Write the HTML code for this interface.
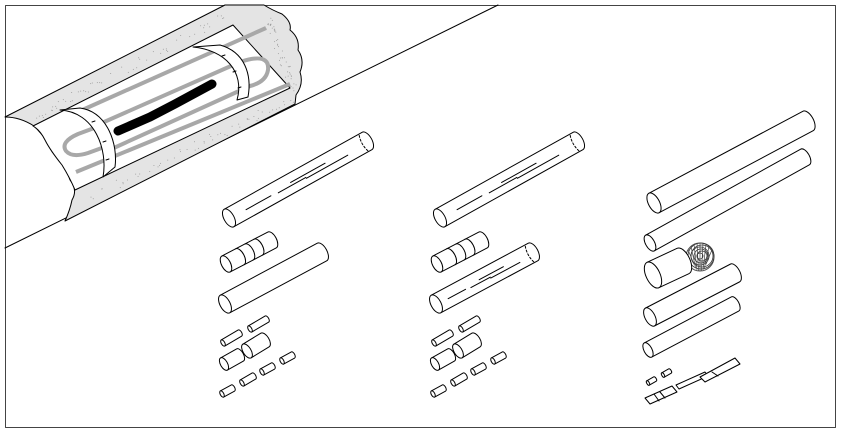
<!DOCTYPE html>
<html><head><meta charset="utf-8"><style>
html,body{margin:0;padding:0;background:#fff;width:841px;height:434px;overflow:hidden}
svg{display:block}
</style></head><body>
<svg id="s" width="841" height="434" viewBox="0 0 841 434" xmlns="http://www.w3.org/2000/svg" fill="none" stroke="#000" stroke-width="1" stroke-linejoin="round" stroke-linecap="round">
<rect x="5.5" y="5.5" width="830" height="422" stroke="#444"/>
<line x1="5" y1="248" x2="498" y2="5"/>
<path d="M5,117 L225,5 L264,5 Q272,10 282,14 Q292,22 290,30 Q300,38 298,50 Q305,60 300,72 Q304,84 296,95 L295,104 L65,221 Q70,210 72,200 Q78,190 70,180 Q66,168 60,160 Q50,152 48,142 Q40,132 34,126 Q20,117 5,117 Z" fill="#e4e4e4"/>
<path d="M33,126 L233,25 L290,88 L75,190 Q70,178 62,165 Q50,150 45,140 Q40,130 33,126 Z" fill="#fff"/>
<g id="dots" fill="#999" stroke="none"></g>
<g stroke="#a8a8a8" stroke-width="4" fill="none" stroke-linecap="butt">
<path d="M80,111 L266,28"/>
<path d="M95,126 L240,62 Q270,52 268,70 Q266,82 250,86 L105,152"/>
<path d="M105,124 L78,134 Q60,142 66,151 Q72,158 88,153 L110,145"/>
<path d="M76,172 L290,84"/>
</g>
<path d="M118,131 L150,117 L175,104 L212,84" stroke="#000" stroke-width="9"/>
<path d="M60,110 C95,112 108,150 103,177 L115,167 C118,145 108,112 80,108 Z" fill="#fff"/>
<path d="M193,47 C225,50 245,72 237,100 L248,97 C252,75 245,52 220,45 Z" fill="#fff"/>
<path d="M92,122 l3,-1 M103,142 l3,-1 M106,160 l3,-1 M222,56 l3,-1 M233,72 l3,-1 M238,88 l3,-1"/>
<g id="parts"></g>
</svg>
<script>
var s=document.getElementById('parts'),NS='http://www.w3.org/2000/svg';
function el(t,a){var e=document.createElementNS(NS,t);for(var k in a)e.setAttribute(k,a[k]);s.appendChild(e);return e;}
function cyl(x1,y1,x2,y2,r,dash){
 var dx=x2-x1,dy=y2-y1,L=Math.hypot(dx,dy),ux=dx/L,uy=dy/L,nx=-uy,ny=ux,ang=Math.atan2(dy,dx)*180/Math.PI,rx=r*0.5;
 var d='M'+(x1+nx*r)+','+(y1+ny*r)+' L'+(x2+nx*r)+','+(y2+ny*r)+' A'+rx+','+r+' '+ang+' 0 0 '+(x2-nx*r)+','+(y2-ny*r)+' L'+(x1-nx*r)+','+(y1-ny*r)+' Z';
 el('path',{d:d,fill:'#fff'});
 el('ellipse',{cx:x1,cy:y1,rx:rx,ry:r,transform:'rotate('+ang+' '+x1+' '+y1+')',fill:'#fff'});
 if(dash){
  for(var i=0;i<dash.length;i++){var a=dash[i][0],b=dash[i][1],o=dash[i][2]*r;
   el('line',{x1:x1+ux*L*a+nx*o,y1:y1+uy*L*a+ny*o,x2:x1+ux*L*b+nx*o,y2:y1+uy*L*b+ny*o});}
  el('path',{d:'M'+(x2+nx*r*0.9-ux*4)+','+(y2+ny*r*0.9-uy*4)+' Q'+(x2-ux*7)+','+(y2-uy*7)+' '+(x2-nx*r*0.9-ux*4)+','+(y2-ny*r*0.9-uy*4),'stroke-dasharray':'2,2'});
 }
}
function bands(x1,y1,x2,y2,r,ts){
 var dx=x2-x1,dy=y2-y1,ang=Math.atan2(dy,dx)*180/Math.PI;
 for(var i=0;i<ts.length;i++){var t=ts[i],cx=x1+dx*t,cy=y1+dy*t,L=Math.hypot(dx,dy),ux=dx/L,uy=dy/L,nx=-uy,ny=ux;
  el('path',{d:'M'+(cx+nx*r)+','+(cy+ny*r)+' A'+r*0.5+','+r+' '+ang+' 0 0 '+(cx-nx*r)+','+(cy-ny*r)});}
}
var ld=[[0.12,0.3,0.1],[0.35,0.55,0.2],[0.55,0.85,0.3],[0.45,0.7,-0.1]];
function col(o,mid){
 cyl(229+o,218,367+o,141,10,ld);
 cyl(226+o,264,272+o,240,9); bands(226+o,264,272+o,240,9,[0.3,0.5,0.7]);
 cyl(225+o,304,322+o,252,10,mid?ld:null);
 cyl(223+o,343,240+o,333,3.5); cyl(250+o,329,267+o,319,3.5);
 cyl(224+o,364,240+o,355,7); cyl(247+o,351,265+o,340,8);
 cyl(222+o,394,233+o,388,3.5); cyl(242+o,383,254+o,376,3.5); cyl(262+o,372,273+o,366,3.5); cyl(282+o,361,293+o,355,3.5);
}
col(0,false); col(211,true);
cyl(654,203,808,121,11); cyl(650,243,805,157,9);
el('circle',{cx:700,cy:257,r:14,fill:'#fff',stroke:'#555'});
for(var k=3;k<14;k+=2){el('circle',{cx:700+(k%3),cy:257-(k%2),r:k,stroke:'#333','stroke-width':0.8});}
for(var i=-12;i<=12;i+=3){var h=Math.sqrt(196-i*i);el('line',{x1:700+i,y1:257-h,x2:700+i*0.5,y2:257+h,stroke:'#444','stroke-width':0.7});}
cyl(653,275,683,261,14);
cyl(650,317,735,273,10); cyl(648,350,735,304,8);
cyl(648,383,655,379,2.5); cyl(663,375,670,371,2.5);
el('path',{d:'M676,385 L705,372 L708,376 L679,389 Z',fill:'#fff'});
el('path',{d:'M700,377 L735,358 L740,364 L705,382 Z M712,372 l6,4',fill:'#fff'});
el('path',{d:'M645,398 L672,386 L677,392 L650,404 Z M654,394 L659,401 M660,392 l5,6',fill:'#fff'});
var dg=document.getElementById('dots'),seed=3;function rnd(){seed=(seed*9301+49297)%233280;return seed/233280;}
var pts=[[30,118,230,12,8],[80,200,295,96,8],[268,20,295,90,6]];
for(var n=0;n<160;n++){var p=pts[n%3],t=rnd(),w=rnd()*p[4];var x=p[0]+(p[2]-p[0])*t+(rnd()-0.5)*8,y=p[1]+(p[3]-p[1])*t+w-2;
 var c=document.createElementNS(NS,'circle');c.setAttribute('cx',x);c.setAttribute('cy',y);c.setAttribute('r',0.5);dg.appendChild(c);}
</script>
</body></html>
